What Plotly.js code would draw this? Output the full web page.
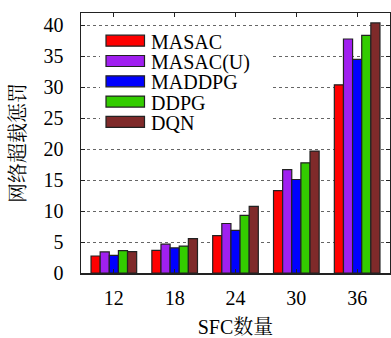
<!DOCTYPE html>
<html>
<head>
<meta charset="utf-8">
<script src="https://cdn.plot.ly/plotly-3.0.1.min.js"></script>
<style>html,body{margin:0;padding:0;background:#fff;}#chart{width:391px;height:338px;}</style>
</head>
<body>
<div id="chart"></div>
<script>
var categories = ['12', '18', '24', '30', '36'];
var seriesNames = ['MASAC', 'MASAC(U)', 'MADDPG', 'DDPG', 'DQN'];
var MASAC  = [2.75, 3.65, 6.05, 13.3, 30.4];
var MASACU = [3.4, 4.65, 8.0, 16.7, 37.8];
var MADDPG = [2.85, 4.05, 6.9, 15.1, 34.5];
var DDPG   = [3.6, 4.35, 9.3, 17.8, 38.4];
var DQN    = [3.45, 5.55, 10.75, 19.7, 40.4];
var yTicks = [0, 5, 10, 15, 20, 25, 30, 35, 40];
var colors = ['#ff0000', '#a020f0', '#0000ff', '#33cc00', '#7f2a2a'];
var seriesValues = [MASAC, MASACU, MADDPG, DDPG, DQN];

var W = 391, H = 338, L = 81, R = 1, T = 13, B = 65;
var pw = W - L - R, ph = H - T - B;
function px(x) { return (x - L) / pw; }
function py(y) { return (H - B - y) / ph; }

var FONT = "'Liberation Serif', 'Noto Serif CJK SC', serif";

var traces = seriesNames.map(function (n, i) {
  return {
    type: 'bar', name: n, x: categories, y: seriesValues[i],
    marker: {color: colors[i], line: {color: '#222', width: 1.2}},
    showlegend: false
  };
});

var shapes = [{
  type: 'rect', xref: 'paper', yref: 'paper', layer: 'above',
  x0: px(100), x1: px(270), y0: py(128), y1: py(29),
  fillcolor: '#fff', line: {width: 0}
}];
var annotations = [];
seriesNames.forEach(function (n, i) {
  var cy = 40.7 + i * 20.3;
  shapes.push({
    type: 'rect', xref: 'paper', yref: 'paper', layer: 'above',
    x0: px(106), x1: px(144.5), y0: py(cy + 5.5), y1: py(cy - 5.5),
    fillcolor: colors[i], line: {color: '#222', width: 1.2}
  });
  annotations.push({
    xref: 'paper', yref: 'paper', x: px(149), y: py(cy + 1),
    xanchor: 'left', yanchor: 'middle', showarrow: false, text: n,
    font: {family: FONT, size: 20, color: '#000'}
  });
});

var layout = {
  width: W, height: H,
  margin: {l: L, r: R, t: T, b: B, pad: 0},
  paper_bgcolor: '#fff', plot_bgcolor: '#fff',
  bargap: 0.25, bargroupgap: 0, barmode: 'group',
  font: {family: FONT, size: 20, color: '#000'},
  xaxis: {
    type: 'category', range: [-0.54, 4.54],
    showline: true, linecolor: '#222', linewidth: 1.5, mirror: 'ticks',
    ticks: 'inside', ticklen: 4, tickcolor: '#222', tickwidth: 1,
    showgrid: false, zeroline: false, ticklabelstandoff: 6,
    tickfont: {family: FONT, size: 20},
    title: {text: 'SFC数量', font: {family: FONT, size: 20}, standoff: 14}
  },
  yaxis: {
    range: [0, 42], tickvals: yTicks, ticktext: yTicks.map(String),
    showline: true, linecolor: '#222', linewidth: 1.5, mirror: 'ticks',
    ticks: 'inside', ticklen: 4, tickcolor: '#222', tickwidth: 1,
    showgrid: true, gridcolor: '#666', griddash: 'dot', gridwidth: 1,
    zeroline: false, ticklabelstandoff: 12,
    tickfont: {family: FONT, size: 20},
    title: {text: '网络超载惩罚', font: {family: FONT, size: 20}, standoff: 12}
  },
  shapes: shapes,
  annotations: annotations
};

Plotly.newPlot('chart', traces, layout, {displayModeBar: false, staticPlot: true});
</script>
</body>
</html>
